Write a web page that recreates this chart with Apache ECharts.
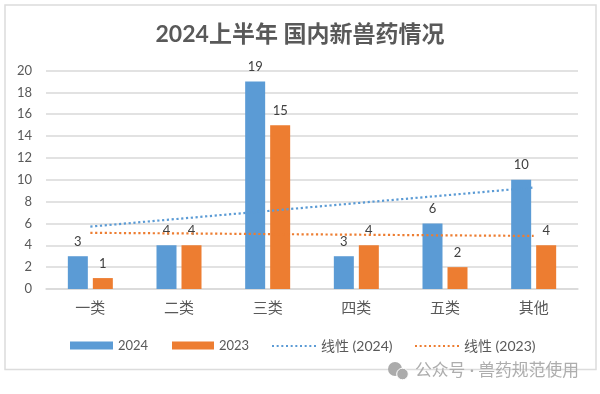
<!DOCTYPE html>
<html><head><meta charset="utf-8">
<script src="https://cdn.jsdelivr.net/npm/echarts@6/dist/echarts.min.js"></script>
<style>html,body{margin:0;padding:0;background:#fff}#c{width:600px;height:394px}</style>
</head><body><div id="c"></div>
<script>
const titleText = '2024上半年 国内新兽药情况';
const categories = ['一类','二类','三类','四类','五类','其他'];
const values2024 = [3,4,19,3,6,10];
const values2023 = [1,4,15,4,2,4];
const trend2024 = [5.71,6.43,7.14,7.86,8.57,9.29];
const trend2023 = [5.14,5.09,5.03,4.97,4.91,4.86];
const yTicks = {min:0,max:20,interval:2};
const watermark = '公众号 · 兽药规范使用';
const F = 'Lato, "Noto Sans CJK SC", sans-serif';
const BLUE='#5B9BD5', ORANGE='#ED7D31', TXT='#595959', GRID='#d9d9d9';
const DOTS='path://M0 0h2v2h-2zM4.7 0h2v2h-2zM9.4 0h2v2h-2zM14.1 0h2v2h-2zM18.8 0h2v2h-2zM23.5 0h2v2h-2zM28.2 0h2v2h-2zM32.9 0h2v2h-2zM37.6 0h2v2h-2zM42.3 0h2v2h-2z';
const barLabel = {show:true,position:'top',distance:8,color:'#404040',fontSize:13,fontFamily:F};
function bar(name,data,color){return {name,type:'bar',data,barWidth:20,barGap:'25%',itemStyle:{color},label:barLabel,z:2};}
function trend(name,data,color){return {name,type:'line',data,symbol:'none',silent:true,z:5,
  lineStyle:{color,width:2.2,type:[2.2,2.6]},itemStyle:{color}};}
function leg(name,left,w,size,icon,h){return {left,top:334,itemWidth:w,itemHeight:h,icon,data:[name],selectedMode:false,
  textStyle:{color:TXT,fontSize:size,fontFamily:F}};}
const chart = echarts.init(document.getElementById('c'),null,{renderer:'canvas'});
chart.setOption({
  animation:false,backgroundColor:'#fff',
  title:{text:titleText,left:'center',top:18,textStyle:{fontSize:23,fontWeight:'bold',color:TXT,fontFamily:F}},
  grid:{left:46,right:22,top:70.5,bottom:105},
  xAxis:{type:'category',data:categories,axisTick:{show:false},
    axisLine:{lineStyle:{color:GRID,width:1.5}},
    axisLabel:{color:TXT,fontSize:15,margin:12,fontFamily:F}},
  yAxis:{type:'value',min:yTicks.min,max:yTicks.max,interval:yTicks.interval,
    axisLine:{show:false},axisTick:{show:false},
    axisLabel:{color:TXT,fontSize:13,margin:14,fontFamily:F},
    splitLine:{lineStyle:{color:GRID,width:1.5}}},
  legend:[
    leg('2024',65,43,13,'rect',8),
    leg('2023',167,42,13,'rect',8),
    leg('线性 (2024)',267,44,14,DOTS,2),
    leg('线性 (2023)',410,44,14,DOTS,2)
  ],
  graphic:[
    {type:'rect',shape:{x:5,y:5,width:591,height:364.5},silent:true,z:-1,
     style:{fill:'#fff',stroke:'#dcdcdc',lineWidth:1.5}},
    {type:'circle',shape:{cx:395,cy:369,r:7},style:{fill:'#ababab'},silent:true},
    {type:'circle',shape:{cx:402.5,cy:374,r:5.8},style:{fill:'#ababab',stroke:'#fff',lineWidth:1},silent:true},
    {type:'text',left:415,top:362,silent:true,
     style:{text:watermark,fill:'#adadad',fontSize:16.8,fontFamily:F}}
  ],
  series:[bar('2024',values2024,BLUE),bar('2023',values2023,ORANGE),
          trend('线性 (2024)',trend2024,BLUE),trend('线性 (2023)',trend2023,ORANGE)]
});
</script></body></html>
